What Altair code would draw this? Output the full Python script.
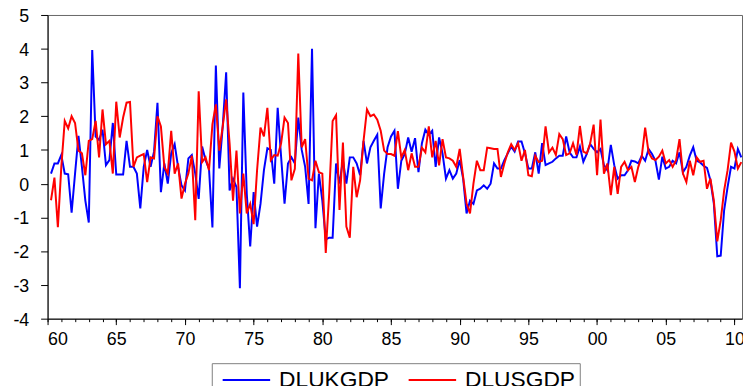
import altair as alt
import pandas as pd

# Quarterly observations 1960Q2 .. 2010Q3
quarters = [f"{1960 + k // 4}Q{k % 4 + 1}" for k in range(1, 203)]

dlukgdp = [
    0.3, 0.6, 0.6, 0.85, 0.3, 0.28, -0.86, 0.3, 1.42, 0.5,
    -0.5, -1.15, 3.96, 1.4, 1.3, 1.6, 0.55, 0.7, 1.8, 0.27,
    0.27, 0.27, 1.27, 0.5, 0.5, 0.3, -0.73, 0.5, 1.0, 0.5,
    0.95, 2.4, -0.25, 0.6, 0.0, 0.9, 1.17, 0.5, -0.05, -0.2,
    0.75, 0.85, 0.3, -0.45, 1.1, 0.7, 0.45, -1.3, 3.5, 0.45,
    1.7, 3.3, -0.2, 0.15, -0.1, -3.1, 2.7, -0.3, -1.86, -0.25,
    -1.27, -0.6, 0.4, 1.05, 1.0, 0.0, 2.25, 0.8, -0.59, 0.6,
    0.78, 0.6, 1.96, 1.0, 0.5, -0.6, 4.0, -1.32, 0.3, -0.5,
    -1.65, -1.6, -1.6, 0.6, 0.0, 0.7, 0.0, 0.78, 0.78, 0.6,
    0.25, 1.27, 0.6, 1.08, 1.27, 1.45, -0.73, 0.3, 1.08, 1.4,
    1.57, -0.15, 0.68, 0.88, 1.37, 0.95, 1.35, 0.34, 1.2, 1.6,
    1.45, 1.57, 0.5, 1.37, 0.9, 0.15, 0.4, 0.15, 0.3, 0.7,
    0.15, -0.88, -0.5, -0.6, -0.2, -0.15, -0.05, -0.15, 0.0, 0.6,
    0.45, 0.45, 0.7, 0.9, 1.1, 0.95, 1.25, 1.25, 0.9, 0.45,
    0.45, 0.93, 0.3, 1.2, 0.55, 0.6, 0.65, 0.75, 0.83, 0.83,
    1.4, 0.93, 0.78, 0.78, 1.1, 0.65, 0.88, 1.17, 1.03, 0.93,
    1.03, 0.55, 0.4, 1.15, 0.55, 0.15, 0.25, 0.25, 0.4, 0.68,
    0.66, 0.6, 0.83, 0.68, 1.03, 0.88, 0.68, 0.12, 0.8, 0.45,
    0.5, 0.68, 0.6, 0.93, 0.34, 0.5, 0.83, 1.08, 0.68, 0.63,
    0.53, 0.47, 0.1, -0.59, -2.15, -2.13, -0.78, -0.1, 0.5, 0.45,
    1.03, 0.78,
]

dlusgdp = [
    -0.49, 0.18, -1.29, 0.5, 1.86, 1.64, 2.0, 1.8, 0.98, 0.9,
    0.25, 1.27, 1.32, 1.86, 0.78, 2.2, 1.17, 1.27, 0.3, 2.43,
    1.37, 1.96, 2.4, 2.42, 0.5, 0.78, 0.83, 0.88, 0.05, 0.78,
    0.75, 2.0, 1.7, 0.5, 0.3, 1.57, 0.3, 0.6, -0.44, 0.0,
    0.3, 0.83, -1.08, 2.74, 0.64, 0.78, 0.4, 1.76, 2.35, 0.98,
    1.7, 2.5, 1.2, -0.5, 0.98, -0.88, 0.3, -0.88, -0.6, -1.2,
    0.4, 1.66, 1.4, 2.25, 0.7, 0.85, 0.83, 1.2, 1.96, 1.8,
    0.1, 0.44, 3.86, 1.08, 1.32, 0.15, 0.1, 0.68, 0.34, 0.3,
    -2.05, -0.3, 1.86, 2.03, -0.78, 1.22, -1.27, -1.6, 0.5, -0.4,
    0.1, 1.27, 2.2, 2.0, 2.05, 1.9, 1.57, 0.98, 0.88, 0.88,
    0.83, 1.56, 0.78, 1.0, 0.4, 0.9, 0.5, 0.5, 1.07, 0.93,
    1.7, 0.78, 1.27, 0.54, 1.32, 0.78, 0.75, 0.68, 0.5, 1.03,
    0.2, -0.59, -0.88, 0.0, 0.68, 0.4, 0.4, 1.07, 1.05, 1.03,
    1.03, 0.2, 0.6, 0.93, 1.17, 1.0, 1.2, 0.68, 1.0, 0.25,
    0.22, 0.83, 0.64, 0.68, 1.7, 0.93, 1.07, 0.85, 1.47, 1.32,
    0.85, 0.9, 1.2, 0.85, 1.71, 0.95, 0.9, 1.2, 1.75, 0.25,
    1.9, 0.3, 0.6, -0.34, 0.5, -0.3, 0.5, 0.65, 0.4, 0.5,
    0.05, 0.5, 0.8, 1.66, 0.93, 0.75, 0.7, 0.8, 0.98, 0.6,
    0.7, 0.5, 0.7, 1.32, 0.3, 0.05, 0.68, 0.25, 0.78, 0.65,
    0.68, -0.15, 0.15, -0.5, -1.71, -1.08, -0.2, 0.4, 1.22, 0.95,
    0.45, 0.64,
]

series_names = ["DLUKGDP", "DLUSGDP"]
series_colors = ["#0000ff", "#ff0000"]
major_years = list(range(1960, 2011, 5))
minor_years = list(range(1960, 2011))
y_ticks = list(range(-4, 6))


def qtime(q):
    y, n = q.split("Q")
    return int(y) + (int(n) - 1) / 4


rows = []
for q, a, b in zip(quarters, dlukgdp, dlusgdp):
    rows.append({"t": qtime(q), "series": series_names[0], "value": a})
    rows.append({"t": qtime(q), "series": series_names[1], "value": b})
df = pd.DataFrame(rows)

FONT = "Liberation Sans"
xscale = alt.Scale(domain=[1960, 2010.55], nice=False, zero=False)
yscale = alt.Scale(domain=[-4, 5], nice=False, zero=False)

lines = alt.Chart(df).mark_line(strokeWidth=2).encode(
    x=alt.X(
        "t:Q",
        scale=xscale,
        axis=alt.Axis(
            values=major_years,
            tickSize=6,
            title=None,
            grid=False,
            orient="bottom",
            domainColor="black",
            tickColor="black",
            labelColor="black",
            labelFont=FONT,
            labelFontSize=18,
            labelPadding=6,
            labelOverlap=False,
            labelExpr="(datum.value % 100) < 10 ? '0' + (datum.value % 100) : '' + (datum.value % 100)",
        ),
    ),
    y=alt.Y(
        "value:Q",
        scale=yscale,
        axis=alt.Axis(
            values=y_ticks,
            tickSize=7,
            title=None,
            grid=False,
            domainColor="black",
            tickColor="black",
            labelColor="black",
            labelFont=FONT,
            labelFontSize=18,
            labelPadding=12,
            labelOffset=1.5,
            labelOverlap=False,
            labelExpr="'' + datum.value",
        ),
    ),
    color=alt.Color(
        "series:N",
        scale=alt.Scale(domain=series_names, range=series_colors),
        legend=alt.Legend(
            orient="none",
            legendX=166,
            legendY=352,
            direction="horizontal",
            title=None,
            symbolType="M-0.5,0H3.5",
            symbolSize=576,
            symbolStrokeWidth=2,
            labelFont=FONT,
            labelFontSize=23,
            labelColor="black",
            labelOffset=38,
            columnPadding=12,
            padding=4,
            strokeColor="#808080",
        ),
    ),
)

minor = alt.Chart(df).mark_point(opacity=0).encode(
    x=alt.X(
        "t:Q",
        scale=xscale,
        axis=alt.Axis(
            values=minor_years,
            tickSize=3,
            labels=False,
            domain=False,
            grid=False,
            title=None,
            orient="bottom",
            tickColor="black",
        ),
    ),
)

chart = (
    alt.layer(lines, minor)
    .resolve_axis(x="independent")
    .properties(
        width=702,
        height=307,
        autosize=alt.AutoSizeParams(type="none"),
        padding={"left": 40, "top": 5, "right": 1, "bottom": 66},
    )
    .configure_view(stroke="#666666", strokeWidth=1)
)

chart.save("out.html", embed_options={"renderer": "svg", "actions": False})
